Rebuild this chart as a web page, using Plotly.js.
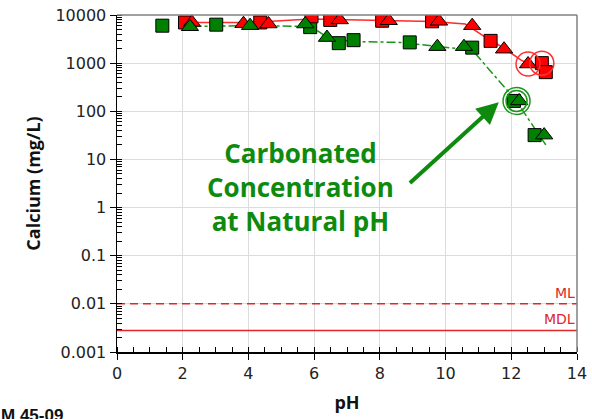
<!DOCTYPE html>
<html>
<head>
<meta charset="utf-8">
<script src="https://cdn.plot.ly/plotly-3.0.1.min.js"></script>
<style>html,body{margin:0;padding:0;background:#fff;}#chart{width:592px;height:419px;}</style>
</head>
<body>
<div id="chart"></div>
<script>
// Red series (non-carbonated)
var redSqX = [2.07, 4.36, 5.92, 6.49, 8.07, 9.59, 11.37, 12.93, 13.05];
var redSqY = [7000, 7000, 9400, 7900, 7600, 7400, 2900, 1000, 650];
var redTriX = [2.28, 3.85, 4.61, 6.78, 8.27, 9.8, 10.81, 11.78, 12.51];
var redTriY = [7000, 6600, 6500, 7900, 7600, 7400, 6000, 1950, 960];
var redLineX = [2.2, 4.0, 5.9, 6.8, 8.0, 9.6, 10.6, 11.15, 11.8, 12.3, 12.9];
var redLineY = [7000, 7000, 8300, 8000, 7600, 7300, 6500, 3700, 2000, 1150, 750];
// Green series (carbonated)
var greenSqX = [1.38, 3.02, 5.88, 6.75, 7.2, 8.91, 10.81, 12.08, 12.71];
var greenSqY = [6000, 6300, 5600, 2600, 3000, 2700, 2100, 164, 32];
var greenTriX = [2.22, 4.05, 5.73, 6.39, 9.75, 10.56, 12.24, 13.0];
var greenTriY = [5700, 6000, 6500, 3400, 2200, 2200, 164, 32];
var greenLineX = [2.3, 4.0, 5.9, 6.5, 7.4, 8.6, 10.4, 10.85, 12.15, 13.05];
var greenLineY = [5800, 6000, 5800, 3100, 2800, 2700, 2000, 1750, 165, 20];
// Circled points
var redCircX = [12.51, 12.93];
var redCircY = [960, 1000];
var greenCircX = [12.16];
var greenCircY = [164];
// Limits
var limitX = [0, 14];
var mlValue = 0.01;
var mdlValue = 0.0028;

var RED = '#ff0000', GREEN = '#008000';

var traces = [
  {x: limitX, y: [mlValue, mlValue], mode: 'lines', line: {color: '#e0262b', width: 1.5, dash: '8px,5px'}, hoverinfo: 'skip'},
  {x: limitX, y: [mdlValue, mdlValue], mode: 'lines', line: {color: '#e0262b', width: 1.5}, hoverinfo: 'skip'},
  {x: redLineX, y: redLineY, mode: 'lines', line: {color: '#ff2a2a', width: 1.5}},
  {x: greenLineX, y: greenLineY, mode: 'lines', line: {color: '#1a961a', width: 1.5, dash: 'dashdot'}},
  {x: greenSqX, y: greenSqY, mode: 'markers', marker: {symbol: 'square', size: 13, color: GREEN, line: {color: '#000', width: 1}}},
  {x: redSqX, y: redSqY, mode: 'markers', marker: {symbol: 'square', size: 13, color: RED, line: {color: '#000', width: 1}}},
  {x: redTriX, y: redTriY, mode: 'markers', marker: {symbol: 'triangle-up', size: 15, color: RED, line: {color: '#000', width: 1}}},
  {x: greenTriX, y: greenTriY, mode: 'markers', marker: {symbol: 'triangle-up', size: 15, color: GREEN, line: {color: '#000', width: 1}}},
  {x: redCircX, y: redCircY, mode: 'markers', marker: {symbol: 'circle-open', size: 24, color: '#ff3030', line: {width: 1.5}}},
  {x: greenCircX, y: greenCircY, mode: 'markers', marker: {symbol: 'circle-open', size: 27, color: '#1a961a', line: {width: 1.5}}},
  {x: greenCircX, y: greenCircY, mode: 'markers', marker: {symbol: 'circle-open', size: 21, color: '#1a961a', line: {width: 1.5}}}
];

var layout = {
  width: 592, height: 419,
  margin: {l: 117, r: 15, t: 15, b: 67},
  separators: '.',
  showlegend: false,
  xaxis: {
    range: [0, 14], dtick: 2, gridcolor: '#dcdcdc',
    zeroline: false, showline: true, linecolor: '#000', linewidth: 1.5,
    ticks: 'outside', ticklen: 6, tickcolor: '#000',
    minor: {dtick: 0.5, ticks: 'inside', ticklen: 5, tickcolor: '#000', tickwidth: 1},
    tickfont: {family: 'DejaVu Sans', size: 16, color: '#222'},
    title: {text: '<b>pH</b>', font: {family: 'Open Sans', size: 18, color: '#111'}, standoff: 14}
  },
  yaxis: {
    type: 'log', range: [-3, 4], dtick: 1, exponentformat: 'none',
    gridcolor: '#dcdcdc', zeroline: false,
    showline: true, linecolor: '#000', linewidth: 1.5,
    ticks: 'outside', ticklen: 6, tickcolor: '#000',
    minor: {dtick: 'D1', ticks: 'inside', ticklen: 5, tickcolor: '#000', tickwidth: 1},
    tickfont: {family: 'DejaVu Sans', size: 16, color: '#222'},
    title: {text: '<b>Calcium (mg/L)</b>', font: {family: 'Open Sans', size: 18, color: '#111'}, standoff: 10}
  },
  shapes: [
    {type: 'line', xref: 'paper', yref: 'paper', x0: 0, x1: 1, y0: 1, y1: 1, line: {color: '#808080', width: 1.5}},
    {type: 'line', xref: 'paper', yref: 'paper', x0: 1, x1: 1, y0: 0, y1: 1, line: {color: '#808080', width: 1.5}}
  ],
  annotations: [
    {x: 5.58, y: 0.42, xref: 'x', yref: 'y', text: '<b>Carbonated<br>Concentration<br>at Natural pH</b>',
     showarrow: false, align: 'center', font: {family: 'Open Sans', size: 26, color: '#0e8a0e'}},
    {x: 11.62, y: 2.19, xref: 'x', yref: 'y', ax: 8.87, ay: 0.48, axref: 'x', ayref: 'y', text: '',
     showarrow: true, arrowhead: 2, arrowsize: 1.1, arrowwidth: 4, arrowcolor: '#0e8a0e'},
    {x: 1, y: Math.log10(mlValue), xref: 'paper', yref: 'y', text: 'ML', showarrow: false, xanchor: 'right', yanchor: 'bottom', yshift: 1,
     font: {family: 'DejaVu Sans', size: 14, color: '#e0262b'}},
    {x: 1, y: Math.log10(mdlValue), xref: 'paper', yref: 'y', text: 'MDL', showarrow: false, xanchor: 'right', yanchor: 'bottom', yshift: 1,
     font: {family: 'DejaVu Sans', size: 14, color: '#e0262b'}},
    {x: -0.257, y: -0.155, xref: 'paper', yref: 'paper', text: '<b>M 45-09</b>', showarrow: false, xanchor: 'left', yanchor: 'top',
     font: {family: 'Liberation Sans', size: 17, color: '#111'}}
  ]
};

Plotly.newPlot('chart', traces, layout, {staticPlot: true, displayModeBar: false});
</script>
</body>
</html>
